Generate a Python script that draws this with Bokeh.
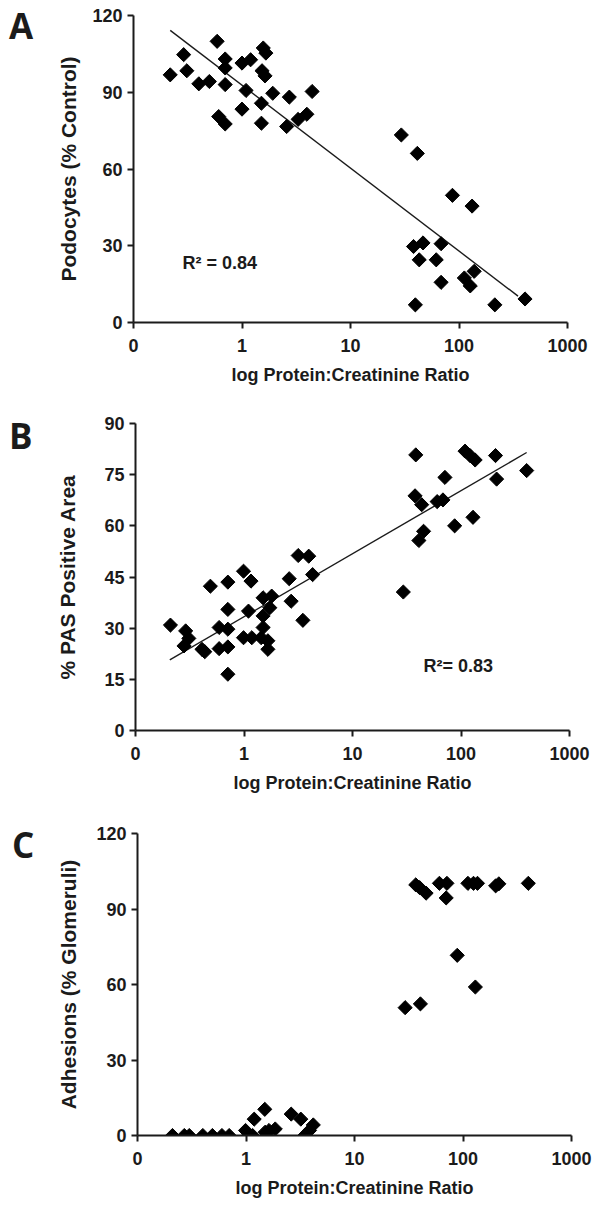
from bokeh.plotting import figure
from bokeh.layouts import column, row
from bokeh.models import FixedTicker, CustomJSTickFormatter, Label, Div
from bokeh.embed import file_html
from bokeh.resources import INLINE
import numpy as np

# ---------------- data ----------------
x_ticks = [0.1, 1, 10, 100, 1000]
x_tick_labels = ["0", "1", "10", "100", "1000"]

a_yticks = [0, 30, 60, 90, 120]
b_yticks = [0, 15, 30, 45, 60, 75, 90]
c_yticks = [0, 30, 60, 90, 120]

# Panel A: Podocytes (% Control)
a_x = [0.218, 0.29, 0.31, 0.40, 0.50, 0.59, 0.61, 0.70, 0.70, 0.70, 0.70,
       1.0, 1.0, 1.09, 1.2, 1.51, 1.51, 1.53, 1.57, 1.66, 1.63, 1.92, 2.58,
       2.73, 3.29, 3.96, 4.43,
       29.4, 41.3, 87, 132, 38.1, 46.6, 43, 61.7, 68.4, 68.4, 39.6, 112,
       127, 138, 214, 406]
a_y = [96.8, 104.7, 98.4, 93.3, 94.2, 109.9, 80.5, 77.6, 103, 99.5, 93.0,
       83.4, 101.4, 90.7, 102.7, 85.7, 77.9, 98.4, 107.3, 105.3, 96.4, 89.6, 76.6,
       88.1, 79.4, 81.4, 90.3,
       73.3, 66.1, 49.7, 45.5, 29.7, 31.1, 24.5, 24.5, 30.8, 15.7, 6.9, 17.4,
       14.3, 20.0, 6.9, 9.2]
a_fit_x = [0.218, 350]
a_fit_y = [114.2, 10.3]

# Panel B: % PAS Positive Area
b_x = [0.21, 0.29, 0.28, 0.31, 0.41, 0.435, 0.49, 0.59, 0.59, 0.71, 0.71,
       0.71, 0.71, 0.71, 0.99, 0.99, 1.10, 1.16, 1.18, 1.44, 1.50, 1.50,
       1.50, 1.66, 1.66, 1.73, 1.80, 2.61, 2.72, 3.16, 3.49, 3.95, 4.29,
       29.4, 38.3, 37.7, 40.9, 43.4, 45.2, 60.3, 68.2, 71.1, 87.4, 109,
       122, 135, 129, 208, 213, 403]
b_y = [30.9, 29.2, 24.8, 27.0, 23.8, 23.1, 42.3, 30.2, 24.0, 43.5, 35.5,
       29.7, 24.5, 16.5, 46.7, 27.2, 35.0, 43.8, 27.2, 27.2, 38.9, 33.6,
       30.2, 26.3, 23.8, 36.0, 39.4, 44.5, 37.9, 51.3, 32.3, 51.1, 45.7,
       40.6, 80.8, 68.8, 55.7, 66.2, 58.4, 67.1, 67.6, 74.2, 60.0, 81.9,
       80.5, 79.3, 62.5, 80.6, 73.7, 76.2]
b_fit_x = [0.207, 403]
b_fit_y = [20.7, 81.5]

# Panel C: Adhesions (% Glomeruli)
c_x = [0.21, 0.27, 0.30, 0.40, 0.49, 0.60, 0.70, 0.99, 1.05, 1.15, 1.19,
       1.49, 1.55, 1.50, 1.63, 1.86, 2.61, 3.2, 3.47, 3.85, 4.17,
       29.3, 40.5, 36.7, 39.8, 45.7, 60.6, 71.1, 70, 88.5, 111, 125, 136,
       130, 200, 214, 400]
c_y = [0, 0, 0, 0, 0, 0, 0, 2, 0, 0, 6.5,
       10.4, 0, 1.3, 2, 2.6, 8.5, 6.5, 0, 2, 4.2,
       50.8, 52.3, 99.6, 98.5, 96.3, 100.2, 100.2, 94.4, 71.6, 100.2, 100.2,
       100.2, 59.0, 99.2, 100, 100.2]

# ---------------- styling helpers ----------------
FONT = "Liberation Sans"
INK = "#1b1b1b"
LETTER_W = 48
PAGE_W = 594

tick_formatter = CustomJSTickFormatter(
    args=dict(tvals=x_ticks, tlabs=x_tick_labels),
    code="""
    for (let i = 0; i < tvals.length; i++) {
        if (Math.abs(Math.log10(tvals[i]) - Math.log10(tick)) < 1e-6) return tlabs[i];
    }
    return '';
    """)


def letter_div(height, letter, pad_top, pad_left):
    html = ('<div style="font-family:\'Open Sans\',sans-serif;font-weight:bold;'
            'font-size:35px;line-height:35px;margin:0;'
            f'padding-top:{pad_top}px;padding-left:{pad_left}px;color:{INK};">'
            f'{letter}</div>')
    return Div(text=html, width=LETTER_W, height=height, margin=0)


def make_panel(height, top, bottom, left, right, yticks, ymax, ylabel, ystand):
    p = figure(width=PAGE_W - LETTER_W, height=height, x_axis_type="log",
               x_range=(0.1, 1000), y_range=(0, ymax), title=None,
               output_backend="svg", toolbar_location=None,
               min_border_top=top, min_border_bottom=bottom,
               min_border_left=left, min_border_right=right)
    p.outline_line_color = None
    p.xgrid.grid_line_color = None
    p.ygrid.grid_line_color = None

    for ax in (p.xaxis[0], p.yaxis[0]):
        ax.axis_line_width = 2
        ax.axis_line_color = INK
        ax.major_tick_line_width = 2
        ax.major_tick_line_color = INK
        ax.major_tick_out = 6
        ax.major_tick_in = 0
        ax.minor_tick_line_color = None
        ax.major_label_text_font = FONT
        ax.major_label_text_font_style = "bold"
        ax.major_label_text_font_size = "18px"
        ax.major_label_text_color = INK
        ax.axis_label_text_font = FONT
        ax.axis_label_text_font_style = "bold"
        ax.axis_label_text_color = INK

    xa = p.xaxis[0]
    xa.ticker = FixedTicker(ticks=x_ticks)
    xa.formatter = tick_formatter
    xa.major_label_standoff = 10
    xa.axis_label = "log Protein:Creatinine Ratio"
    xa.axis_label_text_font_size = "18px"
    xa.axis_label_standoff = 10

    ya = p.yaxis[0]
    ya.ticker = FixedTicker(ticks=yticks)
    ya.major_label_standoff = 5
    ya.axis_label = ylabel
    ya.axis_label_text_font_size = "21px"
    ya.axis_label_standoff = ystand
    return p


MARK = dict(marker="square", angle=np.pi / 4, size=10,
            fill_color="black", line_color="black")

# ---------------- Panel A ----------------
pa = make_panel(392, 15, 70, 133 - LETTER_W, 27, a_yticks, 120,
                "Podocytes (% Control)", 9)
pa.line(a_fit_x, a_fit_y, line_color=INK, line_width=1.4)
pa.scatter(a_x, a_y, **MARK)
pa.add_layout(Label(x=0.283, y=23.1, text="R\u00b2 = 0.84", text_font=FONT,
                    text_font_style="bold", text_font_size="18px", text_color=INK,
                    text_baseline="middle", text_align="left"))
la = letter_div(392, "A", 8, 9)

# ---------------- Panel B ----------------
pb = make_panel(403, 31, 62, 135 - LETTER_W, 25, b_yticks, 90,
                "% PAS Positive Area", 22)
pb.line(b_fit_x, b_fit_y, line_color=INK, line_width=1.4)
pb.scatter(b_x, b_y, **MARK)
pb.add_layout(Label(x=45.2, y=19.0, text="R\u00b2= 0.83", text_font=FONT,
                    text_font_style="bold", text_font_size="18px", text_color=INK,
                    text_baseline="middle", text_align="left"))
lb = letter_div(403, "B", 26, 9)

# ---------------- Panel C ----------------
pc = make_panel(405, 38, 60, 137 - LETTER_W, 23, c_yticks, 120,
                "Adhesions (% Glomeruli)", 13)
pc.scatter(c_x, c_y, **MARK)
lc = letter_div(405, "C", 32, 12)

layout = column(row(la, pa), row(lb, pb), row(lc, pc))

open("out.html", "w").write(file_html(layout, INLINE))
